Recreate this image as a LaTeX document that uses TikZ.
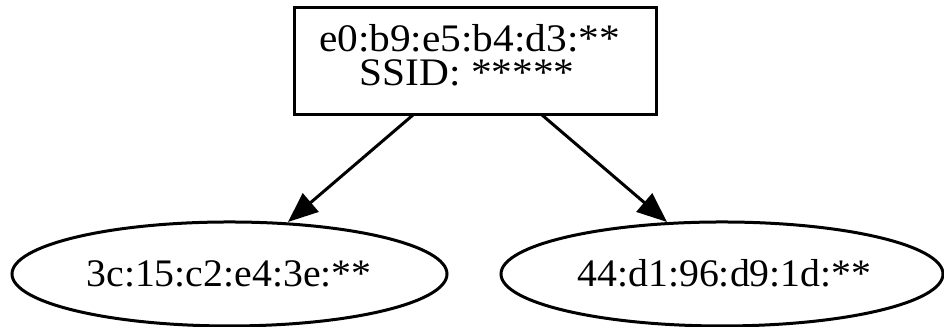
\documentclass[tikz,border=0pt]{standalone}
\usepackage{fontspec}
\setmainfont{Liberation Serif}
\usetikzlibrary{arrows.meta,shapes.geometric}
\newcommand{\lbl}[2][1.02]{\fontsize{9.75pt}{10pt}\selectfont\scalebox{#1}[1]{#2}}
\begin{document}
\begin{tikzpicture}[x=0.25pt,y=-0.25pt,
  boxnode/.style={draw, line width=0.75pt, rectangle, inner sep=0pt, outer sep=0pt,
    minimum width=90.5pt, minimum height=26.75pt},
  ellnode/.style={draw, line width=0.75pt, ellipse, inner sep=0pt, outer sep=0pt,
    minimum height=26pt},
  txt/.style={inner sep=0pt, outer sep=0pt, anchor=base},
  edge/.style={line width=0.75pt, -{Triangle[length=7.5pt, width=6pt]}}]
\useasboundingbox (0,0) rectangle (944,327);
\node[boxnode] (root) at (475,61.5) {};
\node[txt] (t1) at (469.5,51.7) {\lbl[1.06]{e0:b9:e5:b4:d3:**}};
\node[txt] (t2) at (467,85.3) {\lbl[1.06]{SSID: *****}};
\node[ellnode, minimum width=108.75pt] (left) at (229.5,274) {};
\node[txt] (lt) at (229,286.5) {\lbl{3c:15:c2:e4:3e:**}};
\node[ellnode, minimum width=110.5pt] (right) at (722,274) {};
\node[txt] (rt) at (724.5,286.5) {\lbl{44:d1:96:d9:1d:**}};
\draw[edge] ([xshift=-15.5pt]root.south) -- ([xshift=14.625pt]left.north);
\draw[edge] ([xshift=16.75pt]root.south) -- ([xshift=-13.75pt]right.north);
\end{tikzpicture}
\end{document}
